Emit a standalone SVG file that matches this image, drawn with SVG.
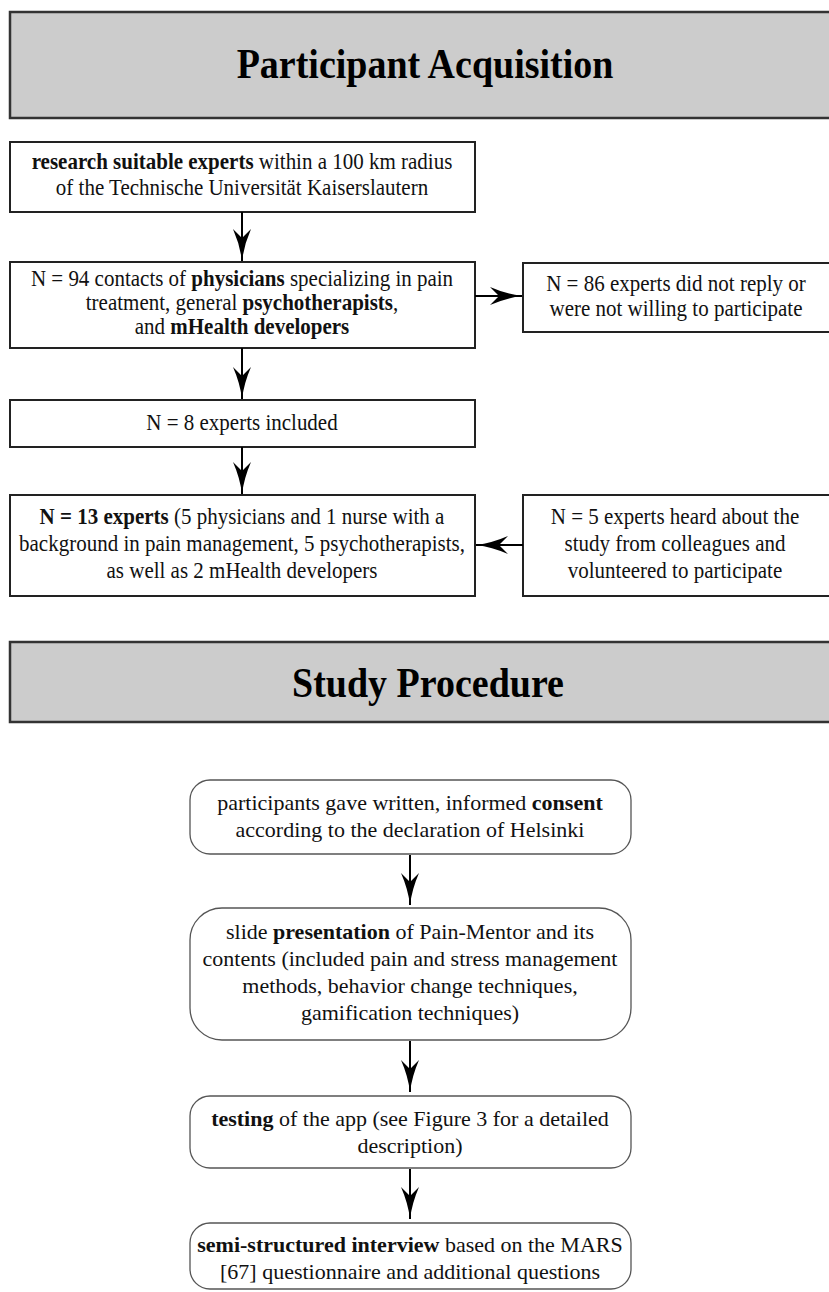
<svg xmlns="http://www.w3.org/2000/svg" width="829" height="1292" viewBox="0 0 829 1292">
<defs>
<marker id="ah" markerUnits="userSpaceOnUse" viewBox="0 0 32 18" refX="32" refY="9" markerWidth="32" markerHeight="18" orient="auto">
<path d="M0,0 Q16,7 32,9 Q16,11 0,18 L9,9 Z" fill="#000"/>
</marker>
</defs>
<style>
.hdr{fill:#cccccc;stroke:#333;stroke-width:2.5}
.box{fill:#fff;stroke:#222;stroke-width:2}
.rbox{fill:#fff;stroke:#555;stroke-width:1.3}
.title{font-family:"Liberation Serif","Times New Roman",serif;font-weight:bold;font-size:38px;fill:#000;text-anchor:middle}
.t{font-family:"Liberation Serif","Times New Roman",serif;font-size:21px;fill:#111;text-anchor:middle}
.l{font-family:"Liberation Serif","Times New Roman",serif;font-size:22px;fill:#111;text-anchor:middle}
.b{font-weight:bold}
.con{stroke:#000;stroke-width:2;fill:none;marker-end:url(#ah)}
</style>
<rect width="829" height="1292" fill="#fff"/>

<g id="header-acquisition">
<rect class="hdr" x="10" y="12" width="830" height="106"/>
<text class="title" transform="translate(425 78) scale(1 1.12)" x="0" y="0">Participant Acquisition</text>
</g>

<g id="node-research">
<rect class="box" x="10" y="142" width="465" height="70"/>
<text class="t" transform="translate(242 169) scale(1 1.08)"><tspan class="b">research suitable experts</tspan> within a 100 km radius</text>
<text class="t" transform="translate(242 195) scale(1 1.08)">of the Technische Universität Kaiserslautern</text>
</g>

<g id="node-contacts">
<rect class="box" x="10" y="262" width="465" height="86"/>
<text class="t" transform="translate(242 286) scale(1 1.08)">N = 94 contacts of <tspan class="b">physicians</tspan> specializing in pain</text>
<text class="t" transform="translate(242 310) scale(1 1.08)">treatment, general <tspan class="b">psychotherapists</tspan>,</text>
<text class="t" transform="translate(242 334) scale(1 1.08)">and <tspan class="b">mHealth developers</tspan></text>
</g>

<g id="node-noreply">
<rect class="box" x="523" y="263" width="320" height="69"/>
<text class="t" transform="translate(676 291) scale(1 1.08)">N = 86 experts did not reply or</text>
<text class="t" transform="translate(676 316) scale(1 1.08)">were not willing to participate</text>
</g>

<g id="node-included">
<rect class="box" x="10" y="400" width="465" height="47"/>
<text class="t" transform="translate(242 430) scale(1 1.08)">N = 8 experts included</text>
</g>

<g id="node-13experts">
<rect class="box" x="10" y="495" width="465" height="101"/>
<text class="t" transform="translate(242 524) scale(1 1.08)"><tspan class="b">N = 13 experts</tspan> (5 physicians and 1 nurse with a</text>
<text class="t" transform="translate(242 551) scale(1 1.08)">background in pain management, 5 psychotherapists,</text>
<text class="t" transform="translate(242 578) scale(1 1.08)">as well as 2 mHealth developers</text>
</g>

<g id="node-heard">
<rect class="box" x="523" y="495" width="320" height="101"/>
<text class="t" transform="translate(675 524) scale(1 1.08)">N = 5 experts heard about the</text>
<text class="t" transform="translate(675 551) scale(1 1.08)">study from colleagues and</text>
<text class="t" transform="translate(675 578) scale(1 1.08)">volunteered to participate</text>
</g>

<g id="header-procedure">
<rect class="hdr" x="10" y="642" width="830" height="80"/>
<text class="title" transform="translate(428 697) scale(1 1.12)" x="0" y="0">Study Procedure</text>
</g>

<g id="node-consent">
<rect class="rbox" x="190" y="780" width="441" height="74" rx="20"/>
<text class="l" x="410" y="810">participants gave written, informed <tspan class="b">consent</tspan></text>
<text class="l" x="410" y="837">according to the declaration of Helsinki</text>
</g>

<g id="node-presentation">
<rect class="rbox" x="190" y="908" width="441" height="132" rx="32"/>
<text class="l" x="410" y="939">slide <tspan class="b">presentation</tspan> of Pain-Mentor and its</text>
<text class="l" x="410" y="966">contents (included pain and stress management</text>
<text class="l" x="410" y="993">methods, behavior change techniques,</text>
<text class="l" x="410" y="1020">gamification techniques)</text>
</g>

<g id="node-testing">
<rect class="rbox" x="190" y="1096" width="441" height="72" rx="20"/>
<text class="l" x="410" y="1126"><tspan class="b">testing</tspan> of the app (see Figure 3 for a detailed</text>
<text class="l" x="410" y="1153">description)</text>
</g>

<g id="node-interview">
<rect class="rbox" x="190" y="1223" width="441" height="66" rx="20"/>
<text class="l" x="410" y="1252"><tspan class="b">semi-structured interview</tspan> based on the MARS</text>
<text class="l" x="410" y="1279">[67] questionnaire and additional questions</text>
</g>

<g id="connectors">
<line class="con" x1="242" y1="212" x2="242" y2="261"/>
<line class="con" x1="475" y1="296" x2="522" y2="296"/>
<line class="con" x1="242" y1="348" x2="242" y2="399"/>
<line class="con" x1="242" y1="447" x2="242" y2="494"/>
<line class="con" x1="523" y1="545" x2="476" y2="545"/>
<line class="con" x1="410" y1="855" x2="410" y2="905"/>
<line class="con" x1="410" y1="1041" x2="410" y2="1092"/>
<line class="con" x1="410" y1="1169" x2="410" y2="1219"/>
</g>
</svg>
